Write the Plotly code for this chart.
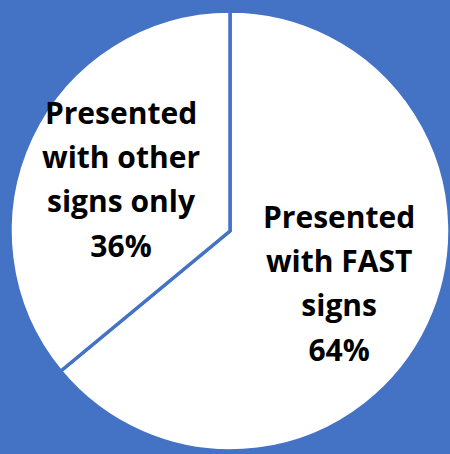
import math
import plotly.graph_objects as go

labels = ["Presented<br>with FAST<br>signs", "Presented<br>with other<br>signs only"]
values = [64, 36]
pct_text = ["64%", "36%"]

BLUE = "#4472C4"
GLYPH_PX = 30      # glyph size
LINE_PX = 34       # sets line spacing (1.3 em)
W, H = 450, 454
M = dict(l=10, r=0, t=8, b=0)
LABEL_RADIUS = 0.55  # fraction of pie radius where labels sit

def styled(label, pct):
    lines = label.split("<br>") + [pct]
    return "<br>".join(f"<span style='font-size:{GLYPH_PX}px'>{ln}</span>" for ln in lines)

fig = go.Figure(
    go.Pie(
        labels=labels,
        values=values,
        textinfo="none",
        sort=False,
        direction="clockwise",
        rotation=0,
        marker=dict(colors=["#FFFFFF", "#FFFFFF"], line=dict(color=BLUE, width=3.5)),
        showlegend=False,
        hoverinfo="skip",
    )
)

# place labels along each slice's bisector (derived from the values)
pw = W - M["l"] - M["r"]
ph = H - M["t"] - M["b"]
rad_px = min(pw, ph) / 2
total = sum(values)
cum = 0
for lab, val, pct in zip(labels, values, pct_text):
    mid = (cum + val / 2) / total * 2 * math.pi  # clockwise from 12 o'clock
    cum += val
    ax = 0.5 + LABEL_RADIUS * rad_px * math.sin(mid) / pw
    ay = 0.5 + LABEL_RADIUS * rad_px * math.cos(mid) / ph
    fig.add_annotation(
        x=ax, y=ay, xref="paper", yref="paper",
        text=styled(lab, pct), showarrow=False,
        xanchor="center", yanchor="middle", align="center",
        font=dict(family="Open Sans", size=LINE_PX, color="#000000", weight="bold"),
    )

fig.update_layout(
    width=W,
    height=H,
    autosize=False,
    paper_bgcolor=BLUE,
    plot_bgcolor=BLUE,
    margin=M,
)

fig.write_html("out.html")
